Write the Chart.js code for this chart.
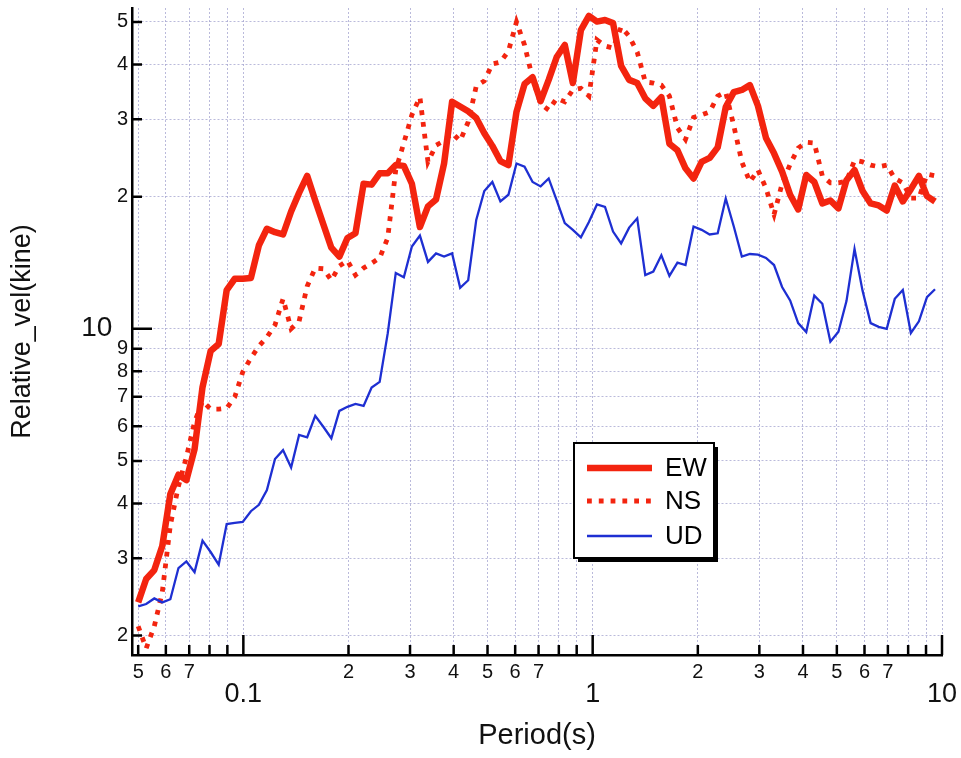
<!DOCTYPE html>
<html>
<head>
<meta charset="utf-8">
<script src="https://cdn.jsdelivr.net/npm/chart.js@4.4.1/dist/chart.umd.min.js"></script>
<style>
  body { margin: 0; background: #fff; }
  canvas { display: block; }
</style>
</head>
<body>
<canvas id="chart" width="961" height="758"></canvas>
<script>
// period (s), log spaced
const periods = [
  0.0500, 0.0527, 0.0556, 0.0586, 0.0618, 0.0652, 0.0687, 0.0725, 0.0764, 0.0806,
  0.0850, 0.0896, 0.0945, 0.0996, 0.1051, 0.1108, 0.1168, 0.1232, 0.1299, 0.1370,
  0.1444, 0.1523, 0.1606, 0.1694, 0.1786, 0.1883, 0.1986, 0.2094, 0.2209, 0.2329,
  0.2456, 0.2590, 0.2731, 0.2880, 0.3037, 0.3202, 0.3377, 0.3561, 0.3755, 0.3959,
  0.4175, 0.4402, 0.4642, 0.4895, 0.5162, 0.5443, 0.5739, 0.6052, 0.6382, 0.6730,
  0.7096, 0.7483, 0.7890, 0.8320, 0.8774, 0.9252, 0.9755, 1.0287, 1.0847, 1.1438,
  1.2062, 1.2719, 1.3412, 1.4143, 1.4913, 1.5726, 1.6583, 1.7486, 1.8439, 1.9443,
  2.0503, 2.1620, 2.2798, 2.4040, 2.5350, 2.6731, 2.8188, 2.9724, 3.1343, 3.3051,
  3.4852, 3.6751, 3.8753, 4.0865, 4.3091, 4.5439, 4.7915, 5.0526, 5.3279, 5.6182,
  5.9243, 6.2471, 6.5875, 6.9464, 7.3249, 7.7240, 8.1449, 8.5887, 9.0566, 9.5501
];

// relative velocity (kine)
const ewVel = [
  2.38, 2.69, 2.82, 3.20, 4.20, 4.65, 4.52, 5.32, 7.36, 8.90,
  9.23, 12.25, 13.0, 13.0, 13.05, 15.5, 16.9, 16.6, 16.4, 18.5,
  20.4, 22.3, 19.6, 17.3, 15.3, 14.6, 16.1, 16.5, 21.4, 21.3,
  22.6, 22.6, 23.6, 23.5, 21.4, 17.05, 19.0, 19.7, 23.8, 32.9,
  32.1, 31.3, 30.2, 27.9, 26.1, 24.1, 23.6, 31.2, 36.1, 37.4,
  33.0, 36.9, 41.6, 44.3, 36.3, 47.9, 51.6, 50.1, 50.5, 49.7,
  39.7, 36.9, 36.3, 33.5, 32.2, 33.7, 26.4, 25.5, 23.2, 22.0,
  24.0, 24.5, 25.9, 32.0, 34.6, 35.0, 35.9, 32.2, 27.2, 25.1,
  22.8, 20.2, 18.7, 22.4, 21.6, 19.3, 19.6, 18.8, 21.8, 23.0,
  20.6, 19.3, 19.1, 18.6, 21.2, 19.5, 20.8, 22.3, 20.05, 19.5
];
const nsVel = [
  2.10, 1.87, 2.10, 2.51, 3.57, 4.38, 5.10, 6.13, 6.84, 6.56,
  6.56, 6.59, 6.99, 7.97, 8.58, 9.13, 9.57, 10.2, 11.7, 10.0,
  10.4, 12.5, 13.75, 13.7, 12.9, 13.9, 14.3, 13.25, 13.75, 14.1,
  14.5, 16.1, 23.0, 26.5, 30.7, 33.7, 24.0, 26.2, 26.8, 27.9,
  26.8, 29.6, 35.7, 36.7, 40.1, 40.5, 42.9, 50.0, 44.3, 37.2,
  32.5, 31.5, 33.5, 32.9, 35.0, 35.3, 33.9, 45.5, 44.1, 43.6,
  48.7, 46.4, 42.7, 36.5, 36.3, 35.9, 33.9, 28.7, 27.0, 30.3,
  30.7, 31.2, 33.9, 34.6, 29.0, 24.0, 21.6, 23.0, 20.9, 18.2,
  21.4, 23.7, 25.8, 26.6, 26.5, 22.3, 21.5, 21.5, 21.7, 24.2,
  24.0, 23.6, 23.4, 23.6, 22.0, 21.5, 19.85, 19.85, 22.5, 22.3
];
const udVel = [
  2.33, 2.36, 2.43, 2.38, 2.42, 2.85, 2.95, 2.79, 3.29, 3.10,
  2.90, 3.59, 3.61, 3.63, 3.84, 3.97, 4.29, 5.05, 5.29, 4.83,
  5.73, 5.66, 6.33, 5.98, 5.63, 6.50, 6.64, 6.74, 6.67, 7.35,
  7.57, 9.76, 13.4, 13.1, 15.4, 16.3, 14.2, 14.85, 14.6, 14.85,
  12.4, 12.9, 17.7, 20.6, 21.6, 19.5, 20.2, 23.8, 23.4, 21.6,
  21.1, 22.0, 19.6, 17.4, 16.8, 16.15, 17.5, 19.2, 18.95, 16.65,
  15.65, 17.0, 17.85, 13.25, 13.5, 14.7, 13.2, 14.15, 13.97, 17.1,
  16.8, 16.4, 16.5, 19.8, 17.1, 14.6, 14.8, 14.75, 14.5, 13.97,
  12.45, 11.6, 10.3, 9.83, 11.9, 11.4, 9.34, 9.84, 11.56, 15.2,
  12.2, 10.3, 10.1, 10.0, 11.7, 12.25, 9.78, 10.4, 11.8, 12.3
];

const xTickValues = [0.05, 0.06, 0.07, 0.08, 0.09, 0.1, 0.2, 0.3, 0.4, 0.5, 0.6, 0.7, 0.8, 0.9,
                     1, 2, 3, 4, 5, 6, 7, 8, 9, 10];
const xTickLabels = ["5", "6", "7", "", "", "0.1", "2", "3", "4", "5", "6", "7", "", "",
                     "1", "2", "3", "4", "5", "6", "7", "", "", "10"];
const xMajor = [0.1, 1, 10];

const yTickValues = [2, 3, 4, 5, 6, 7, 8, 9, 10, 20, 30, 40, 50];
const yTickLabels = ["2", "3", "4", "5", "6", "7", "8", "9", "10", "2", "3", "4", "5"];
const yMajor = [10];

const FONT = '"Liberation Sans", Arial, Helvetica, sans-serif';
const RED = "#f3240f";
const BLUE = "#1e2fd2";
const GRID = "rgba(140,140,195,0.6)";

function points(vals) {
    return periods.map((p, i) => ({ x: p, y: vals[i] }));
}

// inward tick marks on both axes
const tickMarks = {
    id: "tickMarks",
    afterDraw(chart) {
        const { ctx, chartArea, scales } = chart;
        ctx.save();
        ctx.strokeStyle = "#000";
        ctx.lineWidth = 2.5;
        ctx.beginPath();
        xTickValues.forEach(v => {
            const px = scales.x.getPixelForValue(v);
            const len = xMajor.includes(v) ? 20 : 10;
            ctx.moveTo(px, chartArea.bottom);
            ctx.lineTo(px, chartArea.bottom - len);
        });
        yTickValues.forEach(v => {
            const py = scales.y.getPixelForValue(v);
            const len = yMajor.includes(v) ? 20 : 10;
            ctx.moveTo(chartArea.left, py);
            ctx.lineTo(chartArea.left + len, py);
        });
        ctx.stroke();
        ctx.restore();
    }
};

// boxed legend with drop shadow inside the plot
const boxLegend = {
    id: "boxLegend",
    afterDraw(chart) {
        const ctx = chart.ctx;
        const x = 574, y = 443, w = 140, h = 115;
        ctx.save();
        ctx.fillStyle = "#000";
        ctx.fillRect(x + 4, y + 4, w, h);
        ctx.fillStyle = "#fff";
        ctx.fillRect(x, y, w, h);
        ctx.strokeStyle = "#000";
        ctx.lineWidth = 2;
        ctx.strokeRect(x, y, w, h);

        const rows = [468, 501, 536];
        chart.data.datasets.forEach((ds, i) => {
            const ry = rows[i];
            ctx.strokeStyle = ds.borderColor;
            ctx.lineWidth = ds.borderWidth;
            ctx.setLineDash(ds.borderDash || []);
            ctx.lineCap = "butt";
            ctx.beginPath();
            ctx.moveTo(x + 13, ry);
            ctx.lineTo(x + 78, ry);
            ctx.stroke();
            ctx.setLineDash([]);
            ctx.fillStyle = "#000";
            ctx.font = "26px " + FONT;
            ctx.textBaseline = "middle";
            ctx.textAlign = "left";
            ctx.fillText(ds.label, x + 91, ry + 1);
        });
        ctx.restore();
    }
};

new Chart(document.getElementById("chart"), {
    type: "line",
    data: {
        datasets: [
            {
                label: "EW",
                data: points(ewVel),
                borderColor: RED,
                borderWidth: 6.5,
                borderJoinStyle: "round",
                order: 3
            },
            {
                label: "NS",
                data: points(nsVel),
                borderColor: RED,
                borderWidth: 4.8,
                borderDash: [4.8, 7],
                borderCapStyle: "butt",
                order: 2
            },
            {
                label: "UD",
                data: points(udVel),
                borderColor: BLUE,
                borderWidth: 2.3,
                order: 1
            }
        ]
    },
    options: {
        responsive: false,
        animation: false,
        layout: { padding: { top: 8, right: 19, left: 0, bottom: 0 } },
        elements: {
            point: { radius: 0 },
            line: { tension: 0, fill: false }
        },
        plugins: {
            legend: { display: false },
            tooltip: { enabled: false }
        },
        scales: {
            x: {
                type: "logarithmic",
                min: 0.048,
                max: 10,
                afterBuildTicks: s => { s.ticks = xTickValues.map(v => ({ value: v })); },
                afterFit: s => { s.height = 103; s.paddingLeft = 0; s.paddingRight = 0; },
                grid: { color: GRID, lineWidth: 1, drawTicks: false },
                border: { display: true, color: "#000", width: 2.5, dash: [2, 2] },
                ticks: {
                    autoSkip: false,
                    maxRotation: 0,
                    padding: 5,
                    color: "#111",
                    callback: v => {
                        const k = xTickValues.indexOf(v);
                        return k < 0 ? "" : xTickLabels[k];
                    },
                    font: c => (c.tick && xMajor.includes(c.tick.value))
                        ? { family: FONT, size: 27, lineHeight: 2.55 }
                        : { family: FONT, size: 20, lineHeight: 1.2 }
                },
                title: {
                    display: true,
                    text: "Period(s)",
                    color: "#111",
                    font: { family: FONT, size: 29 },
                    padding: { top: 0, bottom: 5 }
                }
            },
            y: {
                type: "logarithmic",
                min: 1.806,
                max: 53.8,
                afterBuildTicks: s => { s.ticks = yTickValues.map(v => ({ value: v })); },
                afterFit: s => { s.width = 132; s.paddingTop = 0; s.paddingBottom = 0; },
                grid: { color: GRID, lineWidth: 1, drawTicks: false },
                border: { display: true, color: "#000", width: 2.5, dash: [2, 2] },
                ticks: {
                    autoSkip: false,
                    padding: 4,
                    color: "#111",
                    callback: v => {
                        const k = yTickValues.indexOf(v);
                        if (k < 0) return "";
                        return yMajor.includes(v) ? yTickLabels[k] + "  " : yTickLabels[k];
                    },
                    font: c => (c.tick && yMajor.includes(c.tick.value))
                        ? { family: FONT, size: 28 }
                        : { family: FONT, size: 20 }
                },
                title: {
                    display: true,
                    text: "Relative_vel(kine)",
                    color: "#111",
                    font: { family: FONT, size: 27 },
                    padding: { top: 6, bottom: 0 }
                }
            }
        }
    },
    plugins: [tickMarks, boxLegend]
});
</script>
</body>
</html>
